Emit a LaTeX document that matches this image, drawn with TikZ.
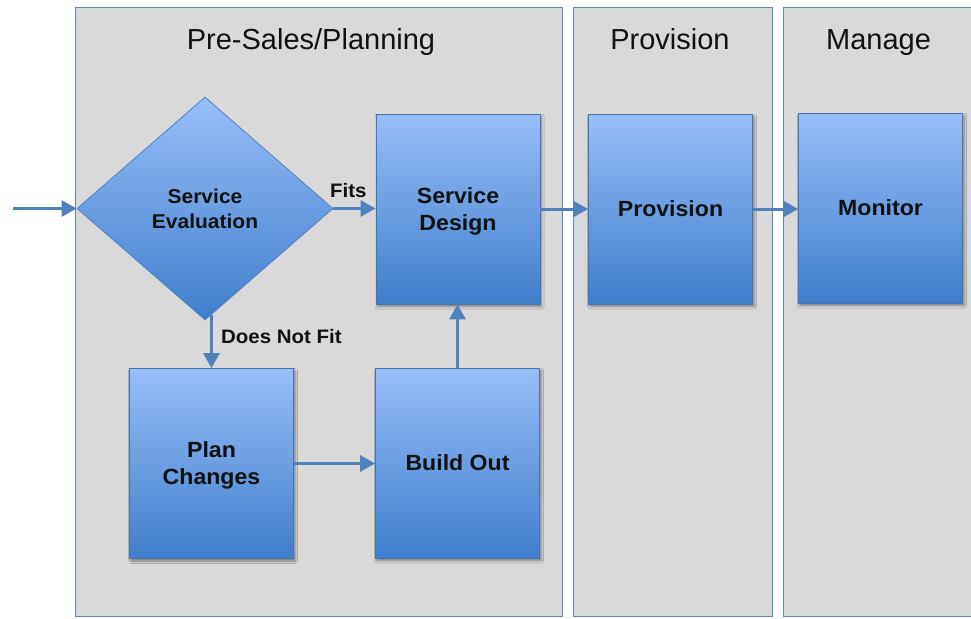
\documentclass[tikz,border=0pt]{standalone}
\usepackage{fontspec}
\setmainfont{Liberation Sans}
\newfontfamily\boxfont{Liberation Sans}[FakeStretch=1.05]
\usetikzlibrary{shapes.geometric,arrows.meta,shadows.blur,calc}
% keep a line's height but drop its descender, so two-line labels sit centred
\newcommand\flatdepth[1]{\raisebox{0pt}[\height][0pt]{#1}}
\definecolor{panelgray}{HTML}{D9D9D9}
\definecolor{edgeblue}{HTML}{5B87C4}
\definecolor{flowblue}{HTML}{4F81BD}
\definecolor{stepTop}{HTML}{98BEF9}
\definecolor{stepBottom}{HTML}{3F7ECC}
\definecolor{ink}{HTML}{111111}

\begin{document}
\begin{tikzpicture}[x=1pt,y=-1pt,
  panel/.style={draw=edgeblue, line width=1.4pt, fill=panelgray, anchor=north west,
    inner sep=0, minimum height=609pt},
  phase/.style={font=\fontsize{29}{33}\selectfont, text=ink, anchor=base, inner sep=0},
  stepbox/.style={draw=flowblue!90!black, line width=0.8pt, top color=stepTop,
    bottom color=stepBottom, minimum width=164pt, minimum height=190pt, inner sep=0,
    align=center, font=\boxfont\bfseries\fontsize{22}{27}\selectfont, text=ink,
    blur shadow={shadow xshift=1.5pt, shadow yshift=-2.5pt, shadow blur radius=2.5pt,
      shadow opacity=45}},
  decision/.style={diamond, draw=flowblue, line width=0.8pt, top color=stepTop,
    bottom color=stepBottom, minimum width=256pt, minimum height=223pt, inner sep=0,
    align=center, font=\boxfont\bfseries\fontsize{20}{25}\selectfont, text=ink},
  flow/.style={draw=flowblue, line width=3pt, -{Triangle[length=15pt,width=16pt]}},
  flowlabel/.style={font=\boxfont\bfseries\fontsize{19.5}{22}\selectfont, text=ink,
    anchor=base west, inner sep=0}
]
\path[use as bounding box] (0,0) rectangle (971,618);
\clip (0,0) rectangle (971,618);

% phase columns
\node[panel, minimum width=487pt] (presales) at (75,7) {};
\node[panel, minimum width=199pt] (provcol) at (573,7) {};
\node[panel, minimum width=200pt] (managecol) at (783,7) {};

\node[phase] (t1) at (311,49) {Pre-Sales/Planning};
\node[phase] (t2) at (670,49) {Provision};
\node[phase] (t3) at (878.5,49) {Manage};

% steps
\node[decision] (dia) at (205,208.5) {Service\\Evaluation};
\node[stepbox] (sd) at (458,209) {Service\\\flatdepth{Design}};
\node[stepbox] (prov) at (670.5,209) {Provision};
\node[stepbox] (mon) at (880.5,208) {Monitor};
\node[stepbox] (plan) at (211.5,463.5) {Plan\\\flatdepth{Changes}};
\node[stepbox] (bo) at (457.5,463) {Build Out};

% connectors
\coordinate (entry) at (13,208.5);
\draw[flow] (entry) -- (dia.west);
\draw[flow] (dia.east) -- (dia.east -| sd.west);
\draw[flow] (sd.east) -- (prov.west);
\draw[flow] (prov.east) -- (prov.east -| mon.west);
\draw[flow] ($(plan.north |- dia.south)+(0,-5)$) -- (plan.north);
\draw[flow] (plan.east) -- (plan.east -| bo.west);
\draw[flow] (bo.north) -- (bo.north |- sd.south);

\node[flowlabel] (fits) at (330,197) {Fits};
\node[flowlabel] (nofit) at (221,343) {Does Not Fit};
\end{tikzpicture}
\end{document}
